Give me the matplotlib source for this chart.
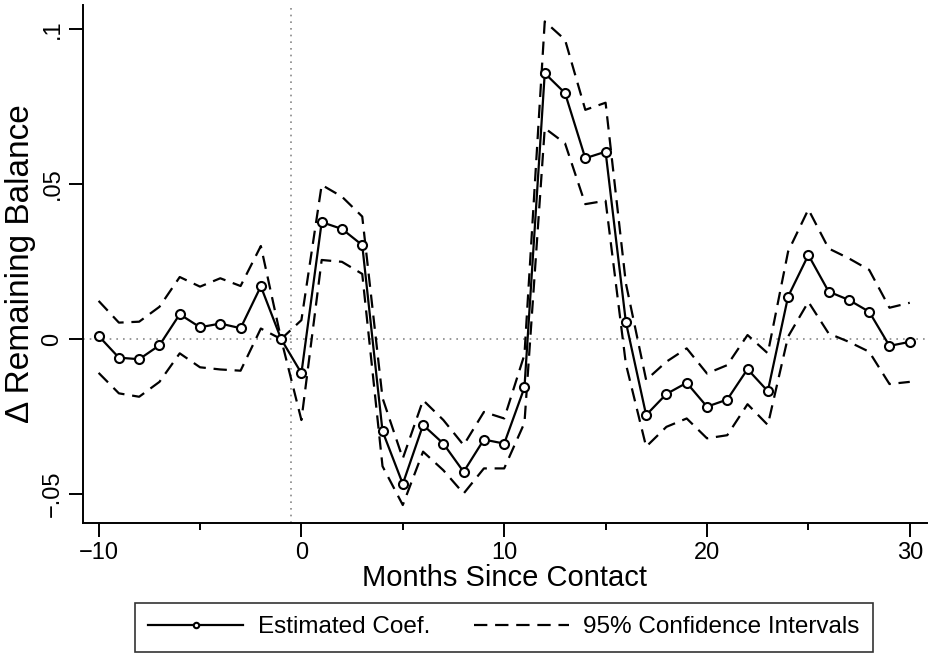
import numpy as np
import matplotlib
matplotlib.use("Agg")
import matplotlib.pyplot as plt
from matplotlib.ticker import FixedLocator

plt.rcParams['font.family'] = ['Liberation Sans', 'DejaVu Sans']

# data
months = list(range(-10, 31))
coef = [0.001, -0.006, -0.0065, -0.002, 0.008, 0.0038, 0.005, 0.0035, 0.017, 0.0,
        -0.011, 0.0377, 0.0355, 0.0303, -0.0297, -0.0467, -0.0277, -0.0337, -0.0428, -0.0324,
        -0.0337, -0.0156, 0.0857, 0.0793, 0.0583, 0.0604, 0.0055, -0.0245, -0.0177, -0.0141,
        -0.0218, -0.0195, -0.0097, -0.0168, 0.0137, 0.0271, 0.0153, 0.0126, 0.0088, -0.0022,
        -0.0009]
upper = [0.0123, 0.0053, 0.0056, 0.0104, 0.020, 0.0169, 0.0196, 0.0171, 0.030, 0.0,
         0.0061, 0.0497, 0.0459, 0.0395, -0.019, -0.0385, -0.0197, -0.0261, -0.0342, -0.0235,
         -0.0256, -0.005, 0.1024, 0.0965, 0.0739, 0.0762, 0.018, -0.0132, -0.0073, -0.003,
         -0.0111, -0.0084, 0.0013, -0.0046, 0.0282, 0.0418, 0.0292, 0.026, 0.0223, 0.0101,
         0.0117]
lower = [-0.0109, -0.0175, -0.0186, -0.0138, -0.0046, -0.0091, -0.0098, -0.0102, 0.0034, 0.0,
         -0.0261, 0.0255, 0.0249, 0.021, -0.041, -0.0535, -0.0363, -0.0423, -0.0498, -0.0417,
         -0.0417, -0.027, 0.068, 0.0631, 0.0435, 0.0446, -0.008, -0.0347, -0.0283, -0.0256,
         -0.032, -0.031, -0.021, -0.0277, 0.0008, 0.012, 0.0018, -0.0009, -0.0041, -0.0145,
         -0.0138]

yticks = [-0.05, 0, 0.05, 0.1]
yticklabels = ['\u2212.05', '0', '.05', '.1']
xticks = [-10, 0, 10, 20, 30]
xticklabels = ['\u221210', '0', '10', '20', '30']

fig = plt.figure(figsize=(9.3, 6.54), dpi=100)
ax = fig.add_axes([83/930, 1 - 523/654, 844/930, 518/654])

ax.axhline(0, color='#888888', lw=1.2, ls=(0, (1, 3)), zorder=1)
ax.axvline(-0.5, color='#888888', lw=1.2, ls=(0, (1, 3)), zorder=1)

ax.plot(months, upper, color='black', lw=1.6, ls=(0, (6, 3.5)), zorder=2)
ax.plot(months, lower, color='black', lw=1.6, ls=(0, (6, 3.5)), zorder=2,
        label='95% Confidence Intervals')
ax.plot(months, coef, color='black', lw=1.6, marker='o', ms=6.5, mfc='white',
        mec='black', mew=1.5, zorder=3, label='Estimated Coef.')

ax.set_xlim(-10.77, 30.85)
ax.set_ylim(-0.0593, 0.1077)
ax.spines['top'].set_visible(False)
ax.spines['right'].set_visible(False)
for s in ('left', 'bottom'):
    ax.spines[s].set_linewidth(1.4)

ax.set_xticks(xticks)
ax.set_xticklabels(xticklabels, fontsize=17)
ax.xaxis.set_minor_locator(FixedLocator([-5, 5, 15, 25]))
ax.set_yticks(yticks)
ax.set_yticklabels(yticklabels, fontsize=17, rotation=90, va='center')
ax.tick_params(axis='both', which='major', length=10, width=1.4, pad=4)
ax.tick_params(axis='x', which='minor', length=5, width=1.4)

ax.set_xlabel('Months Since Contact', fontsize=21, labelpad=0)
ax.set_ylabel('\u0394 Remaining Balance', fontsize=24, labelpad=4)

h, l = ax.get_legend_handles_labels()
leg = fig.legend(h[::-1], l[::-1], loc='lower center', bbox_to_anchor=(0.542, 0.0),
                 ncol=2, fontsize=17.5, frameon=True, fancybox=False, edgecolor='black',
                 handlelength=3.9, handletextpad=0.6, columnspacing=1.8,
                 borderpad=0.55, borderaxespad=0.1, markerscale=0.6)
leg.get_frame().set_linewidth(1.2)

fig.savefig('out.png', dpi=100)
